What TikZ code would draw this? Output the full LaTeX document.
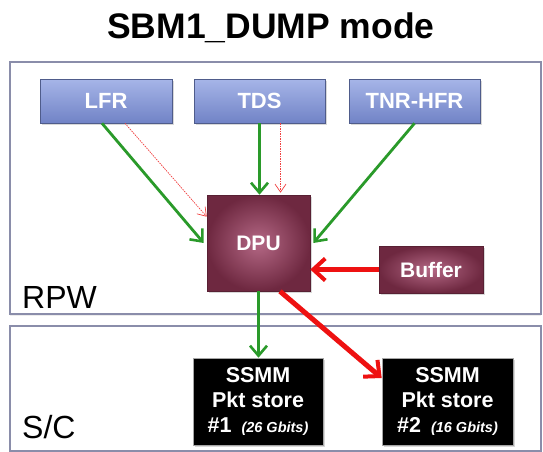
\documentclass[tikz,border=0pt]{standalone}
\usepackage{fontspec}
\setmainfont{Liberation Sans}
\usetikzlibrary{arrows.meta,shadows}

\definecolor{dumpgreen}{HTML}{2A9A2A}
\definecolor{dumpred}{HTML}{EE1111}
\definecolor{panelline}{HTML}{8A8DAA}
\definecolor{instrtop}{HTML}{A6B5E8}
\definecolor{instrbot}{HTML}{7183C6}
\definecolor{unitin}{HTML}{B46885}
\definecolor{unitout}{HTML}{6E2840}

\tikzset{
  panel/.style={draw=panelline, line width=1.2pt, fill=white,
    drop shadow={shadow xshift=0pt, shadow yshift=-2pt, opacity=0.15}},
  instr/.style={draw=instrbot!70!black, line width=0.6pt,
    top color=instrtop, bottom color=instrbot,
    text=white, font=\bfseries\fontsize{22}{24}\selectfont,
    drop shadow={shadow xshift=2pt, shadow yshift=-2pt, opacity=0.3}},
  unit/.style={draw=unitout!80!black, line width=0.6pt,
    inner color=unitin, outer color=unitout,
    text=white, font=\bfseries\fontsize{21}{24}\selectfont,
    drop shadow={shadow xshift=2pt, shadow yshift=-2pt, opacity=0.3}},
  store/.style={draw=gray!70, line width=0.6pt, fill=black, text=white,
    align=center, font=\bfseries\fontsize{21.5}{25}\selectfont,
    drop shadow={shadow xshift=2pt, shadow yshift=-2pt, opacity=0.3}},
  flow/.style={draw=dumpgreen, line width=2.8pt,
    -{Straight Barb[length=10pt,width=17pt,line width=2.6pt]}},
  dump/.style={draw=dumpred, line width=5pt,
    -{Straight Barb[length=12pt,width=22pt,line width=4pt]}},
  ctrl/.style={draw=dumpred!80, line width=0.7pt, dash pattern=on 1.5pt off 1pt,
    -{Straight Barb[length=8pt,width=11pt,line width=0.7pt]}},
}

\begin{document}
\begin{tikzpicture}[x=1pt,y=-1pt]
      \useasboundingbox (0,0) rectangle (543,452);
      \node (title) at (271,28) {\bfseries\fontsize{35.5}{40}\selectfont SBM1\_DUMP mode};
      % the two panels
      \draw[panel] (10,62) rectangle (541,314);
      \draw[panel] (10,326) rectangle (541,451);
      \node[anchor=base west, inner sep=0pt, font=\fontsize{32}{36}\selectfont] (rpw) at (22,308) {RPW};
      \node[anchor=base west, inner sep=0pt, font=\fontsize{32}{36}\selectfont] (sc) at (22,438) {S/C};
      % boxes
      \node[instr, minimum width=132pt, minimum height=44pt] (lfr) at (106,101) {LFR};
      \node[instr, minimum width=131pt, minimum height=44pt] (tds) at (259.5,101) {TDS};
      \node[instr, minimum width=131pt, minimum height=44pt] (tnr) at (414.5,101) {TNR-HFR};
      \node[unit, minimum width=103pt, minimum height=96pt] (dpu) at (258.5,243) {DPU};
      \node[unit, minimum width=104pt, minimum height=47pt] (buffer) at (431,269.5) {Buffer};
      \node[store, minimum width=130pt, minimum height=87pt] (ssmm1) at (258,401.5)
        {SSMM\\Pkt store\\\#1 {\itshape\fontsize{14.5}{16}\selectfont\ (26 Gbits)}};
      \node[store, minimum width=131pt, minimum height=87pt] (ssmm2) at (447.5,401.5)
        {SSMM\\Pkt store\\\#2 {\itshape\fontsize{14.5}{16}\selectfont\ (16 Gbits)}};
      \begin{scope}
        \draw[flow] ([xshift=-4pt]lfr.south) to ([xshift=-3pt]dpu.west);
        \draw[ctrl] ([xshift=19pt]lfr.south) to ([yshift=-22pt]dpu.north west);
        \draw[flow] (tds.south) to (tds.south |- dpu.north);
        \draw[ctrl] ([xshift=21pt]tds.south) to ([xshift=21pt,yshift=2pt]tds.south |- dpu.north);
        \draw[flow] (tnr.south) to ([xshift=3pt]dpu.east);
        \draw[flow] (dpu.south) to (dpu.south |- ssmm1.north);
        \draw[dump] (buffer.west) to (buffer.west -| dpu.east);
        \draw[dump] ([xshift=21.5pt]dpu.south) to ([yshift=23.5pt]ssmm2.west);
      \end{scope}
    \end{tikzpicture}
\end{document}
